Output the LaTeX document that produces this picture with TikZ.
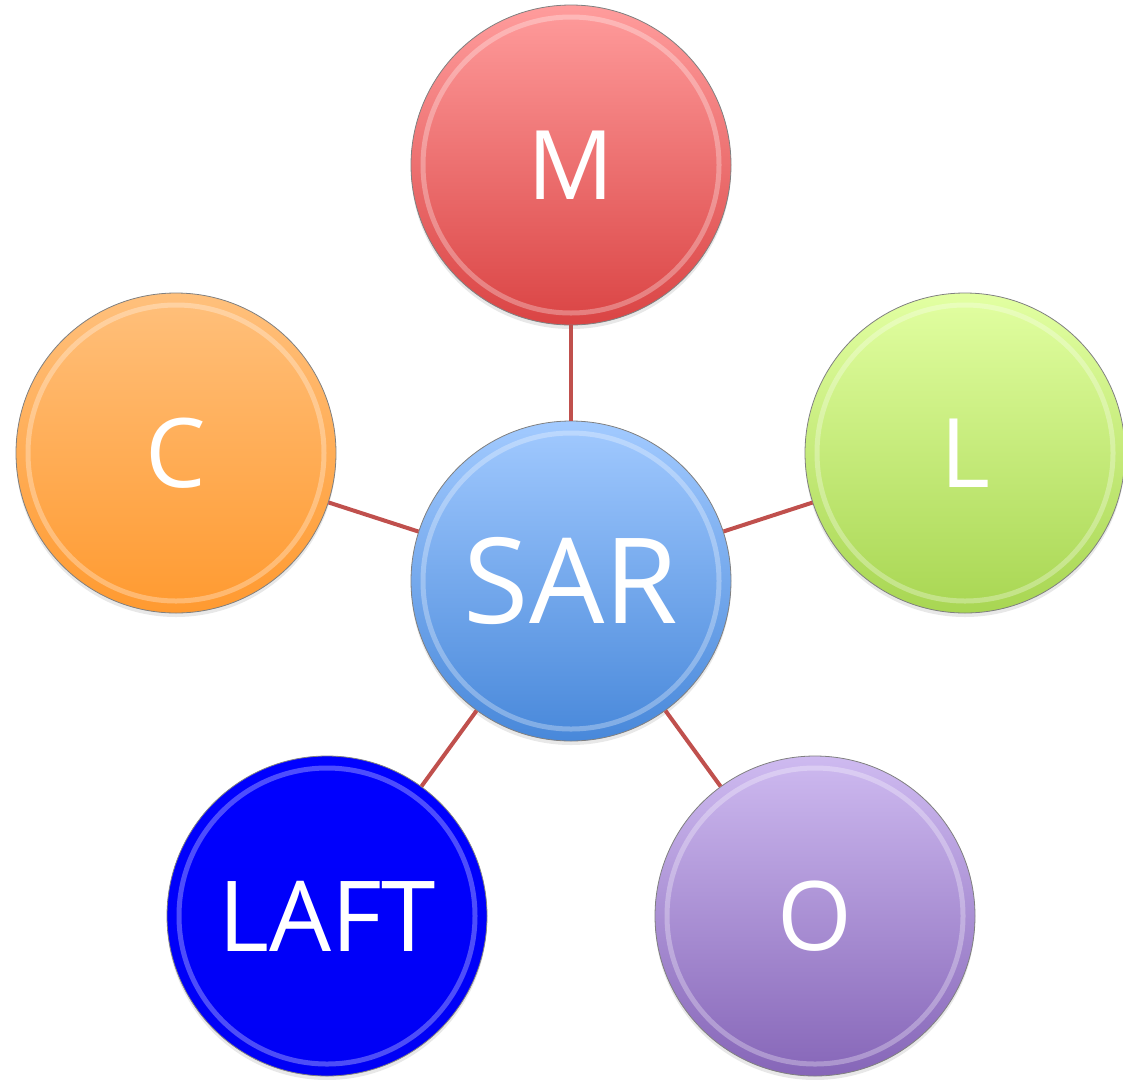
\documentclass[tikz,border=0pt]{standalone}
\usepackage{fontspec}
\setmainfont{Open Sans}
\usetikzlibrary{shadows}
\definecolor{linkred}{RGB}{192,80,77}
\definecolor{sarTop}{RGB}{162,202,255}
\definecolor{sarBot}{RGB}{72,136,218}
\definecolor{mTop}{RGB}{255,156,156}
\definecolor{mBot}{RGB}{218,68,68}
\definecolor{cTop}{RGB}{255,192,124}
\definecolor{cBot}{RGB}{255,154,48}
\definecolor{lTop}{RGB}{226,255,162}
\definecolor{lBot}{RGB}{168,214,82}
\definecolor{laftTop}{RGB}{0,0,255}
\definecolor{laftBot}{RGB}{0,0,245}
\definecolor{oTop}{RGB}{206,186,240}
\definecolor{oBot}{RGB}{134,102,184}
\tikzset{
  ball/.style 2 args={circle, minimum size=320pt, inner sep=0pt,
    top color=#1, bottom color=#2, draw=black!50, line width=0.8pt,
    text=white, font=\fontsize{96}{96}\selectfont,
    drop shadow={opacity=0.18, shadow xshift=0pt, shadow yshift=-4pt}},
  link/.style={draw=linkred, line width=4pt},
  rim/.style={draw=white, opacity=0.3, line width=5pt}
}
\begin{document}
\begin{tikzpicture}[x=1pt, y=-1pt]
\useasboundingbox (0,0) rectangle (1123,1079);

% the hub and its five satellites
\node[ball={sarTop}{sarBot}, font=\fontsize{119}{119}\selectfont] (sar) at (571,581) {SAR};
\node[ball={mTop}{mBot}] (m) at (571,165) {M};
\node[ball={cTop}{cBot}] (c) at (176,453) {C};
\node[ball={lTop}{lBot}] (l) at (965,453) {L};
\node[ball={laftTop}{laftBot}, font=\fontsize{98}{98}\selectfont] (laft) at (327,916) {LAFT};
\node[ball={oTop}{oBot}] (o) at (815,916) {O};

% light inner rim on each ball
\foreach \n in {sar,m,c,l,laft,o}
  \draw[rim] (\n.center) circle (148pt);

% spokes from the hub
\foreach \n in {m,c,l,laft,o}
  \draw[link] (sar) -- (\n);
\end{tikzpicture}
\end{document}
